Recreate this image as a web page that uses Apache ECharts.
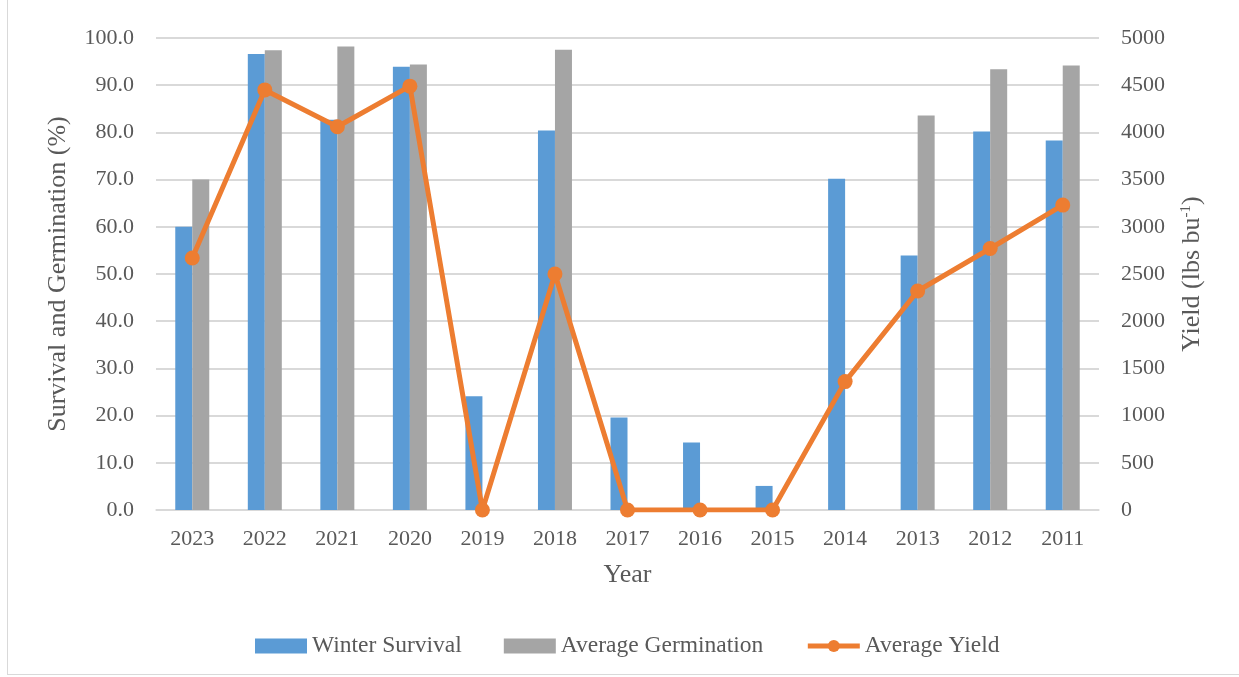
<!DOCTYPE html>
<html>
<head>
<meta charset="utf-8">
<script src="https://cdn.jsdelivr.net/npm/echarts@6/dist/echarts.min.js"></script>
<style>
  html, body { margin: 0; padding: 0; background: #fff; overflow: hidden; }
  #chart { position: absolute; left: 7px; top: -2px; width: 1240px; height: 677px; box-sizing: border-box; border: 1px solid #d9d9d9; }
</style>
</head>
<body>
<div id="chart"></div>
<script>
// data
const years = ["2023", "2022", "2021", "2020", "2019", "2018", "2017", "2016", "2015", "2014", "2013", "2012", "2011"];
const winterSurvival = [60.0, 96.6, 82.7, 93.9, 24.1, 80.4, 19.6, 14.3, 5.1, 70.2, 53.9, 80.2, 78.3];
const avgGermination = [70.0, 97.4, 98.2, 94.4, 0, 97.5, 0, 0, 0, 0, 83.6, 93.4, 94.2];
const avgYield = [2670, 4450, 4060, 4490, 0, 2500, 0, 0, 0, 1360, 2320, 2770, 3230];
const leftTicks = [0, 100, 10];
const rightTicks = [0, 5000, 500];

const font = "Liberation Serif";
const txt = "#595959";

const chart = echarts.init(document.getElementById("chart"));
chart.setOption({
  textStyle: { fontFamily: font },
  //布局
  grid: { left: 148, right: 147, top: 39, bottom: 164 },
  legend: {
    top: 630,
    left: 242,
    itemWidth: 52,
    itemHeight: 15,
    itemGap: 42,
    textStyle: { fontFamily: font, fontSize: 23.5, color: txt },
    data: [
      { name: "Winter Survival", icon: "rect" },
      { name: "Average Germination", icon: "rect" },
      { name: "Average Yield", lineStyle: { width: 5 } }
    ]
  },
  xAxis: {
    type: "category",
    data: years,
    name: "Year",
    nameLocation: "middle",
    nameGap: 52,
    nameTextStyle: { fontSize: 26, color: txt },
    axisTick: { show: false },
    axisLine: { lineStyle: { color: "#d9d9d9", width: 1.5 } },
    axisLabel: { fontSize: 22, color: txt, margin: 18 }
  },
  yAxis: [
    {
      type: "value",
      min: leftTicks[0],
      max: leftTicks[1],
      interval: leftTicks[2],
      name: "Survival and Germination (%)",
      nameLocation: "middle",
      nameGap: 85,
      nameTextStyle: { fontSize: 26, color: txt },
      axisLine: { show: false },
      axisTick: { show: false },
      splitLine: { lineStyle: { color: "#d9d9d9", width: 2 } },
      axisLabel: { fontSize: 22, color: txt, margin: 22, formatter: v => v.toFixed(1) }
    },
    {
      type: "value",
      min: rightTicks[0],
      max: rightTicks[1],
      interval: rightTicks[2],
      name: "{a|Yield (lbs bu}{b|-1}{a|)}",
      nameLocation: "middle",
      nameGap: 80,
      nameRotate: 90,
      nameTextStyle: {
        rich: {
          a: { fontFamily: font, fontSize: 26, color: txt },
          b: { fontFamily: font, fontSize: 15, color: txt, padding: [0, 0, 12, 0] }
        }
      },
      axisLine: { show: false },
      axisTick: { show: false },
      splitLine: { show: false },
      axisLabel: { fontSize: 22, color: txt, margin: 22, formatter: v => String(v) }
    }
  ],
  series: [
    {
      name: "Winter Survival",
      type: "bar",
      data: winterSurvival,
      barWidth: 17,
      barGap: "0%",
      itemStyle: { color: "#5B9BD5" }
    },
    {
      name: "Average Germination",
      type: "bar",
      data: avgGermination,
      barWidth: 17,
      itemStyle: { color: "#A5A5A5" }
    },
    {
      name: "Average Yield",
      type: "line",
      yAxisIndex: 1,
      data: avgYield,
      symbol: "circle",
      symbolSize: 15,
      itemStyle: { color: "#ED7D31" },
      lineStyle: { color: "#ED7D31", width: 5 }
    }
  ]
});
</script>
</body>
</html>
